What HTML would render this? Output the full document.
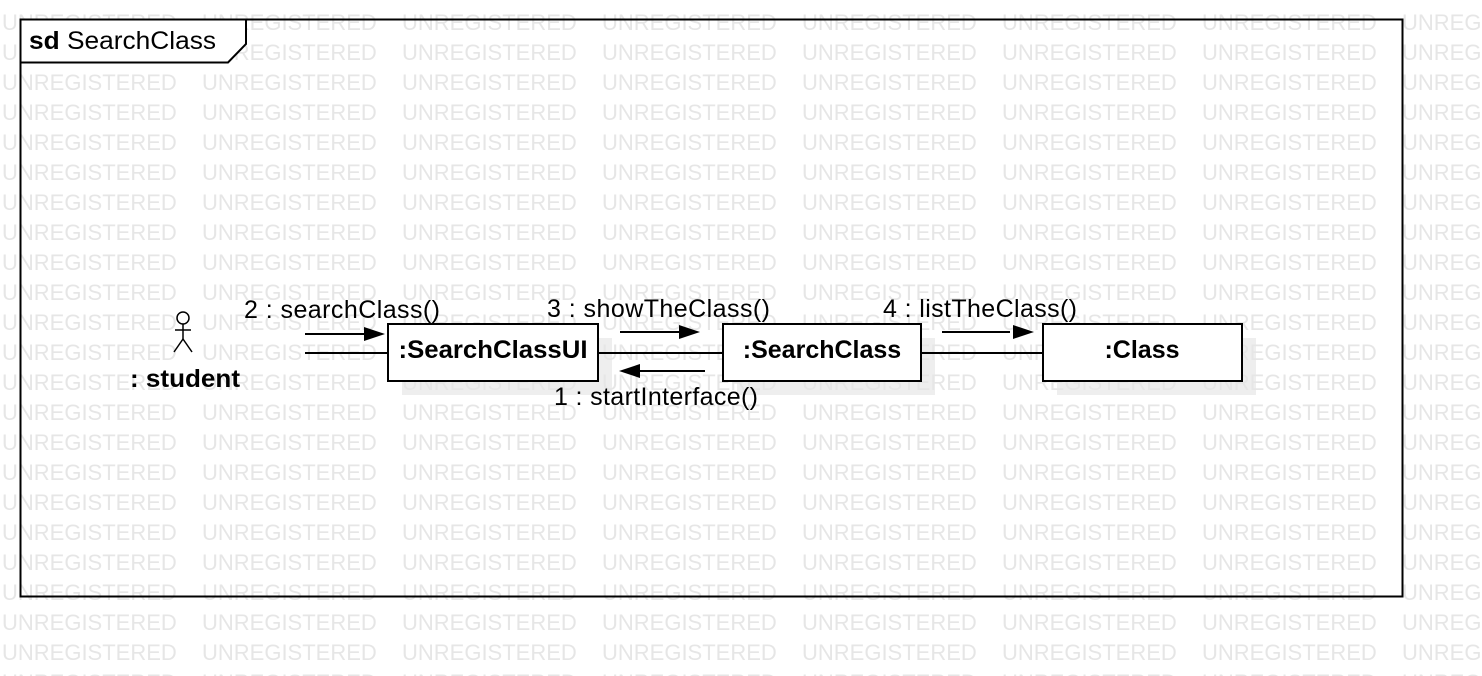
<!DOCTYPE html>
<html><head><style>
body{margin:0;background:#fff;}
svg{display:block;font-family:"Liberation Sans",Arial,sans-serif;}
</style></head><body>
<svg width="1482" height="676" viewBox="0 0 1482 676" xmlns="http://www.w3.org/2000/svg">
<defs>
<pattern id="wm" x="2" y="0" width="200" height="30" patternUnits="userSpaceOnUse">
<text x="0" y="30" font-size="22" fill="#e6e6e6">UNREGISTERED</text>
</pattern>
</defs>
<rect x="0" y="0" width="1482" height="676" fill="#fff"/>
<rect x="402" y="338" width="210" height="57" fill="#eeeeee"/>
<rect x="737" y="338" width="198" height="57" fill="#eeeeee"/>
<rect x="1057" y="338" width="199" height="57" fill="#eeeeee"/>
<rect x="0" y="0" width="1482" height="676" fill="url(#wm)"/>
<rect x="20.5" y="19.5" width="1382" height="577" fill="none" stroke="#000" stroke-width="2"/>
<path d="M20.5 62.5 H228 L246 44 V19.5 H20.5 Z" fill="#fff" stroke="#000" stroke-width="2"/>
<text x="29" y="49" font-size="25" textLength="187" lengthAdjust="spacingAndGlyphs"><tspan font-weight="bold">sd</tspan>  SearchClass</text>
<g stroke="#000" stroke-width="1.5" fill="none">
<circle cx="183" cy="318" r="6"/>
<line x1="183" y1="324" x2="183" y2="339"/>
<line x1="175" y1="330" x2="191" y2="330"/>
<line x1="183" y1="339" x2="174" y2="352"/>
<line x1="183" y1="339" x2="192" y2="352"/>
</g>
<text x="130" y="387" font-size="25" font-weight="bold" textLength="110" lengthAdjust="spacingAndGlyphs">: student</text>
<g stroke="#000" stroke-width="2">
<line x1="305" y1="353" x2="388" y2="353"/>
<line x1="598" y1="353" x2="723" y2="353"/>
<line x1="921" y1="353" x2="1043" y2="353"/>
<line x1="305" y1="334" x2="370" y2="334"/>
<line x1="620" y1="332" x2="685" y2="332"/>
<line x1="636" y1="371" x2="705" y2="371"/>
<line x1="942" y1="332" x2="1010" y2="332"/>
</g>
<g fill="#000">
<polygon points="364,327 385,334 364,341"/>
<polygon points="679,325 700,332 679,339"/>
<polygon points="640,364 619,371 640,378"/>
<polygon points="1013,325 1034,332 1013,339"/>
</g>
<g font-size="25" lengthAdjust="spacingAndGlyphs">
<text x="244" y="318" textLength="196">2 : searchClass()</text>
<text x="547" y="317" textLength="223">3 : showTheClass()</text>
<text x="883" y="317" textLength="194">4 : listTheClass()</text>
<text x="554" y="405" textLength="204">1 : startInterface()</text>
</g>
<g fill="#fff" stroke="#000" stroke-width="2">
<rect x="388" y="324" width="210" height="57"/>
<rect x="723" y="324" width="198" height="57"/>
<rect x="1043" y="324" width="199" height="57"/>
</g>
<g font-size="25" font-weight="bold" text-anchor="middle">
<text x="493" y="358" textLength="189" lengthAdjust="spacingAndGlyphs">:SearchClassUI</text>
<text x="822" y="358">:SearchClass</text>
<text x="1142" y="358">:Class</text>
</g>
</svg>
</body></html>
